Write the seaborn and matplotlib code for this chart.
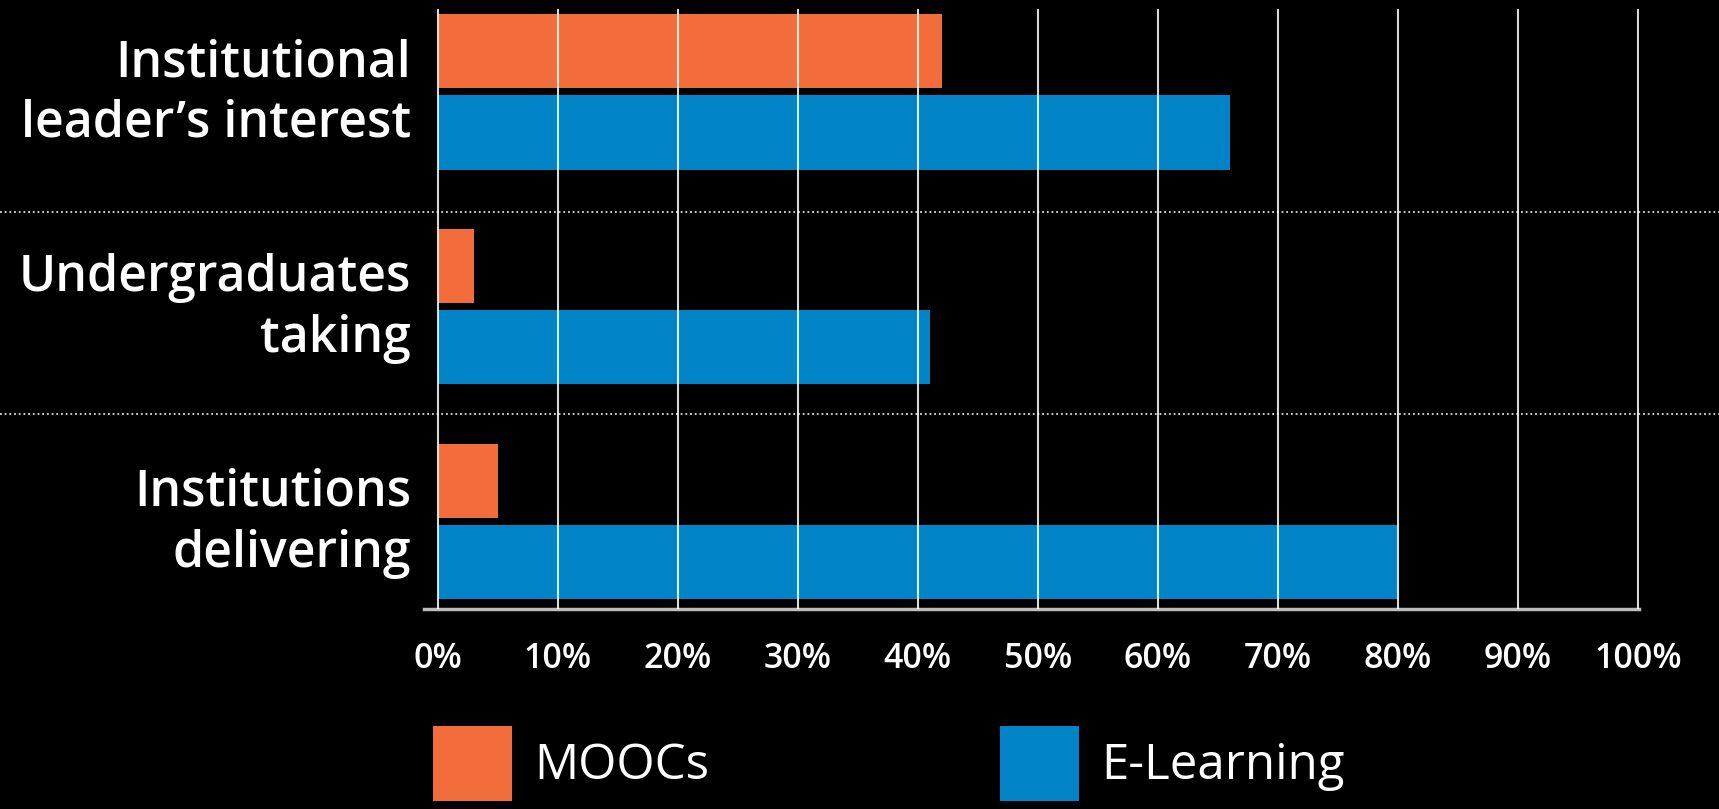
import numpy as np
import pandas as pd
import matplotlib.pyplot as plt
import seaborn as sns
from matplotlib.transforms import blended_transform_factory

# data
categories = ["Institutional\nleader’s interest", "Undergraduates\ntaking", "Institutions\ndelivering"]
series = ["MOOCs", "E-Learning"]
moocs = [42, 3, 5]
elearning = [66, 41, 80]
xticks = [0, 10, 20, 30, 40, 50, 60, 70, 80, 90, 100]
xticklabels = [f"{t}%" for t in xticks]

colors = ["#F36C3C", "#0084C7"]

df = pd.DataFrame({
    "category": categories * 2,
    "series": [series[0]] * 3 + [series[1]] * 3,
    "value": moocs + elearning,
})

sns.set_style("dark")
plt.rcParams["font.family"] = ["Open Sans", "DejaVu Sans"]

W, H = 1719, 809
fig = plt.figure(figsize=(W / 100, H / 100), dpi=100, facecolor="black")
ax = fig.add_axes([423.6 / W, 1 - 609 / H, (1639 - 423.6) / W, (609 - 9) / H])
ax.set_facecolor("black")

sns.barplot(data=df, y="category", x="value", hue="series", palette=colors,
            orient="h", width=0.756, gap=0.087, linewidth=0, saturation=1, ax=ax)

ax.set_xlim(-1.2, 100.1)
ax.set_ylim(2.407, -0.386)
ax.set_xlabel("")
ax.set_ylabel("")

ax.set_axisbelow(False)
ax.grid(axis="x", color="white", alpha=0.85, linewidth=1.5)
ax.grid(axis="y", visible=False)
ax.set_xticks(xticks)
ax.set_xticklabels(xticklabels)
# labels sit a little above the bar-pair centre in the reference
ax.set_yticks([i - 0.045 for i in range(len(categories))], categories)
ax.tick_params(axis="x", colors="white", length=13, width=1.5, pad=11, labelsize=24.5)
ax.tick_params(axis="y", length=0, pad=9, labelsize=36, labelcolor="white")
for lab in ax.get_xticklabels():
    lab.set_fontweight("semibold")
for lab in ax.get_yticklabels():
    lab.set_linespacing(1.28)
    lab.set_fontweight("semibold")

for side in ["left", "right", "top"]:
    ax.spines[side].set_visible(False)
ax.spines["bottom"].set_visible(True)
ax.spines["bottom"].set_color("#bbbbbb")
ax.spines["bottom"].set_linewidth(2.5)

# dotted separators across the whole figure
tr = blended_transform_factory(fig.transFigure, ax.transData)
for y in [0.56, 1.5]:
    ax.plot([0, 1], [y, y], transform=tr, clip_on=False, color="#dddddd",
            linestyle=(0, (1, 1.6)), linewidth=1.3)

handles, labels = ax.get_legend_handles_labels()
ax.get_legend().remove()
leg = fig.legend(handles, labels, loc="upper left", bbox_to_anchor=(433 / W, 1 - 726 / H),
                 ncol=2, frameon=False, handlelength=1.6, handleheight=1.95,
                 handletextpad=0.45, columnspacing=5.9, borderpad=0, borderaxespad=0,
                 prop={"family": ["Open Sans", "DejaVu Sans"], "size": 35.5})
for t in leg.get_texts():
    t.set_color("white")

fig.savefig("out.png", dpi=100, facecolor="black")
